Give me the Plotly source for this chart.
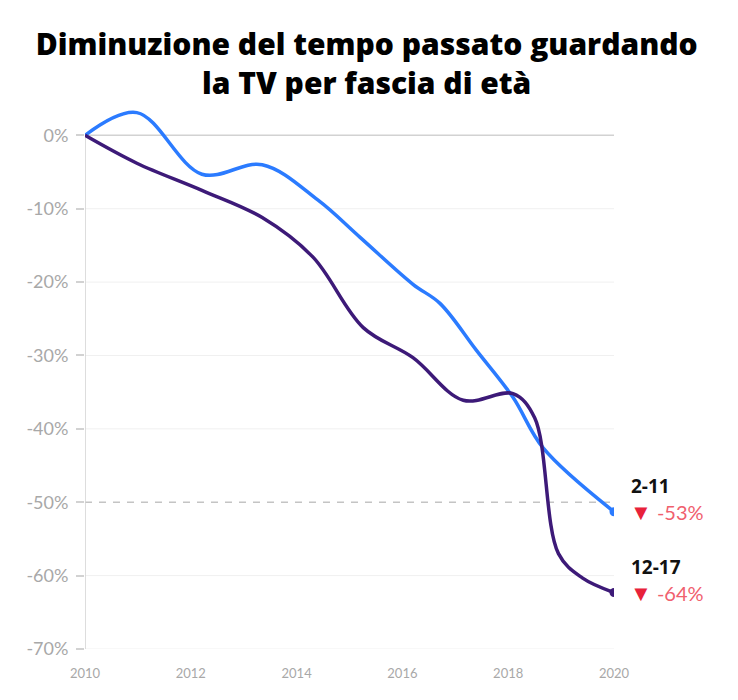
import plotly.graph_objects as go

# Data (fractional years, % change vs 2010)
years_2_11 = [2010, 2010.98, 2012.21, 2013.35, 2014.4, 2015.2, 2016.2, 2016.71, 2017.4, 2018.09, 2018.66, 2020]
vals_2_11 = [0, 3.1, -5.3, -4.0, -8.8, -13.9, -20.3, -22.9, -29.3, -35.7, -42.6, -51.3]

years_12_17 = [2010, 2010.98, 2012.21, 2013.35, 2014.31, 2015.26, 2016.2, 2017.15, 2018.09, 2018.5, 2018.95, 2019.4, 2020]
vals_12_17 = [0, -3.8, -7.5, -11.2, -16.6, -26.2, -30.3, -36.1, -35.2, -38.5, -57.0, -60.3, -62.3]

labels = ["2-11", "12-17"]
final_changes = ["-53%", "-64%"]
colors = ["#2b7bff", "#3d1a78"]

title_text = "Diminuzione del tempo passato guardando<br>la TV per fascia di età"

x_ticks = [2010, 2012, 2014, 2016, 2018, 2020]
x_ticktext = ["2010", "2012", "2014", "2016", "2018", "2020"]
y_ticks = [0, -10, -20, -30, -40, -50, -60, -70]
y_ticktext = ["0%", "-10%", "-20%", "-30%", "-40%", "-50%", "-60%", "-70%"]

series = [(years_2_11, vals_2_11), (years_12_17, vals_12_17)]

fig = go.Figure()
for (xs, ys), name, col in zip(series, labels, colors):
    fig.add_trace(go.Scatter(
        x=xs, y=ys, mode="lines", name=name,
        line=dict(color=col, width=3.5, shape="spline", smoothing=1.0),
        hoverinfo="skip", showlegend=False,
    ))
    fig.add_trace(go.Scatter(
        x=[xs[-1]], y=[ys[-1]], mode="markers",
        marker=dict(color=col, size=9), showlegend=False, hoverinfo="skip",
    ))

# gridlines drawn as shapes so the -50% one can be dashed
for yv in y_ticks:
    if yv == 0:
        ln = dict(color="#d2d2d2", width=1.5)
    elif yv == -50:
        ln = dict(color="#c4c4c4", width=1.5, dash="7px,7px")
    else:
        ln = dict(color="#f0f0f0", width=1)
    fig.add_shape(type="line", xref="x", yref="y", x0=2010, x1=2020, y0=yv, y1=yv,
                  line=ln, layer="below")
fig.add_shape(type="line", xref="x", yref="y", x0=2010, x1=2010, y0=0, y1=-70,
              line=dict(color="#d2d2d2", width=1.5), layer="below")

# end labels
for (xs, ys), name, chg in zip(series, labels, final_changes):
    fig.add_annotation(x=xs[-1], y=ys[-1], xref="x", yref="y", text="<b>" + name + "</b>",
                       showarrow=False, xanchor="left", yanchor="middle",
                       xshift=15, yshift=26,
                       font=dict(family="Open Sans, Roboto, sans-serif", size=19, color="#111111", weight=800))
    fig.add_annotation(x=xs[-1], y=ys[-1], xref="x", yref="y",
                       text="<span style='color:#e8213a;font-size:22px'>▼</span> " + chg,
                       showarrow=False, xanchor="left", yanchor="middle",
                       xshift=14, yshift=0,
                       font=dict(family="Lato, sans-serif", size=20, color="#f0606e"))

fig.update_layout(
    width=738, height=700,
    paper_bgcolor="white", plot_bgcolor="white",
    margin=dict(l=77, r=132, t=98, b=59),
    title=dict(
        text=title_text,
        x=0.486, xanchor="center", y=0.933, yanchor="top",
        font=dict(family="Open Sans, Roboto, sans-serif", size=30, color="#000000", weight=800),
    ),
    xaxis=dict(
        range=[2010, 2020], tickmode="array", tickvals=x_ticks, ticktext=x_ticktext,
        showgrid=False, zeroline=False, showline=False, automargin=False,
        ticks="outside", ticklen=12, tickcolor="rgba(0,0,0,0)",
        tickfont=dict(family="Lato, sans-serif", size=13, color="#a8a8a8"),
        fixedrange=True,
    ),
    yaxis=dict(
        range=[-70, 4], tickmode="array", tickvals=y_ticks, ticktext=y_ticktext,
        showgrid=False, zeroline=False, showline=False,
        automargin=False,
        ticks="outside", ticklen=8, tickcolor="#d2d2d2", tickwidth=1.5,
        ticklabelstandoff=4,
        tickfont=dict(family="Lato, sans-serif", size=18, color="#a8a8a8"),
        fixedrange=True,
    ),
)

fig.write_html("out.html")
